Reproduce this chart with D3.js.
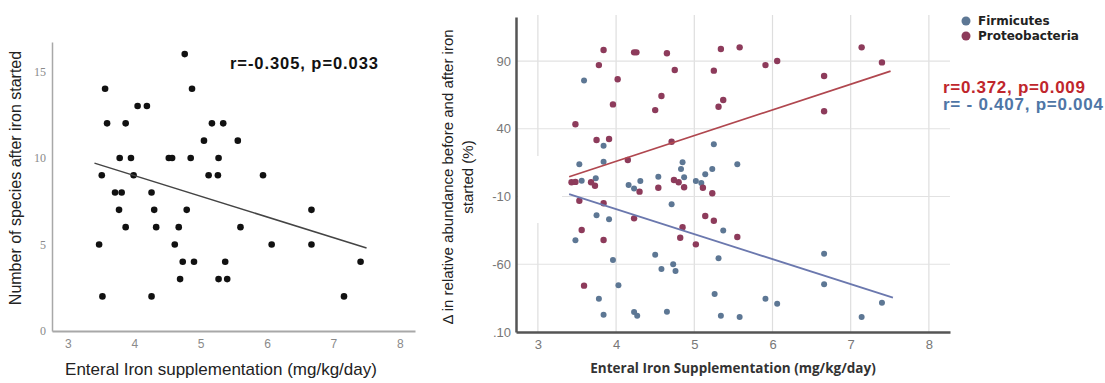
<!DOCTYPE html>
<html>
<head>
<meta charset="utf-8">
<script src="https://cdn.jsdelivr.net/npm/d3@7"></script>
<style>
  body { margin: 0; background: #fff; }
  svg { display: block; }
</style>
</head>
<body>
<div id="chart"></div>
<script>
// left panel: species count vs enteral iron
const speciesIron = [4.76, 3.56, 4.87, 4.05, 4.19, 3.59, 3.87, 5.17, 5.34, 5.05, 5.56, 3.78, 3.95, 4.52, 4.57, 4.85, 5.27,
  3.51, 3.99, 5.12, 5.26, 5.94, 3.71, 3.81, 4.26, 3.77, 4.30, 4.79, 6.67, 3.87, 4.33, 4.67, 5.60, 3.47, 4.61, 6.07, 6.67,
  4.73, 4.90, 5.37, 7.41, 4.69, 5.27, 5.40, 3.52, 4.26, 7.16];
const speciesCount = [16, 14, 14, 13, 13, 12, 12, 12, 12, 11, 11, 10, 10, 10, 10, 10, 10,
  9, 9, 9, 9, 9, 8, 8, 8, 7, 7, 7, 7, 6, 6, 6, 6, 5, 5, 5, 5,
  4, 4, 4, 4, 3, 3, 3, 2, 2, 2];
const speciesFit = [[3.4, 9.7], [7.5, 4.8]];

// right panel: change in relative abundance
const proteoIron = [3.84, 4.23, 4.26, 4.65, 3.78, 4.75, 5.25, 4.02, 4.58, 3.96, 4.50, 5.37, 5.31, 3.48, 3.75, 3.91, 4.71,
  4.15, 5.34, 5.58, 5.91, 6.06, 6.66, 7.14, 7.40, 6.66, 3.43, 3.48, 3.68, 3.73, 4.30, 4.54, 4.74, 4.80, 4.87, 5.11,
  5.23, 3.53, 3.84, 4.23, 5.14, 5.25, 4.85, 4.82, 5.02, 3.56, 3.84, 3.59, 5.55];
const proteoDelta = [98.1, 96.4, 96.4, 95.7, 87, 83.4, 82.9, 76.5, 64.2, 58, 53.8, 61.2, 56.3, 43.3, 31.7, 32.4, 30.4,
  17, 98.9, 100.1, 87, 90, 78.9, 100.1, 89, 52.9, 0.5, 0.8, 0.5, -2, -6.4, -3.5, 2.2, 0.5, -3.2, -3.5,
  -7.6, -13.1, -15, -26.1, -24.4, -27.9, -32.7, -40.4, -45.3, -34.7, -42.1, -75.8, -39.9];
const firmIron = [3.59, 3.84, 3.53, 3.84, 4.85, 5.25, 5.55, 5.23, 4.83, 4.87, 3.56, 3.74, 4.16, 4.23, 4.31, 4.54, 5.14,
  5.02, 5.09, 4.71, 3.75, 3.91, 3.48, 3.96, 4.50, 4.58, 4.73, 4.76, 4.03, 3.78, 3.84, 4.23, 4.27, 4.65, 5.26, 5.34,
  5.31, 5.37, 5.91, 6.06, 5.58, 6.66, 6.66, 7.14, 7.40];
const firmDelta = [75.7, 27.5, 13.8, 15.7, 15.2, 28.5, 13.8, 10.3, 10.3, 4.2, 1.7, 3.4, -1.5, -4, 1.4, 4.6, 6.4,
  1.4, 0, -15.8, -23.9, -26.8, -42.3, -56.9, -53, -63.5, -60, -65, -75.5, -85.4, -97.2, -95.2, -98, -95, -82, -98,
  -55.6, -35, -85.4, -89.1, -99, -52.2, -74.8, -99, -88.4];
const proteoFit = [[3.40, 4.6], [7.51, 82.6]];
const firmFit = [[3.40, -8.2], [7.54, -84.7]];

const xTickValues = [3, 4, 5, 6, 7, 8];
const leftYTicks = [0, 5, 10, 15];
const rightYTicks = [90, 40, -10, -60, -110];
const rightYLabels = ["90", "40", "-10", "-60", ".10"];
const seriesNames = ["Firmicutes", "Proteobacteria"];
const seriesColors = ["#5d7794", "#8d3b5b"];

const svg = d3.select("#chart")
  .append("svg")
  .attr("width", 1105)
  .attr("height", 383);

// ---------- left panel ----------
const xL = d3.scaleLinear().domain([2.76, 8.23]).range([52, 415]);
const yL = d3.scaleLinear().domain([0, 16.7]).range([331, 42]);

const leftX = svg.append("g")
  .attr("transform", "translate(0,331)")
  .call(d3.axisBottom(xL).tickValues(xTickValues).tickFormat(d3.format("d")).tickSize(0).tickPadding(8));
leftX.select(".domain").attr("stroke", "#a8a8a8").attr("stroke-width", 2);
leftX.selectAll("text")
  .style("font-family", "Liberation Sans, Arial, sans-serif")
  .style("font-size", "12px")
  .attr("fill", "#8a8a8a");

const leftY = svg.append("g")
  .attr("transform", "translate(52,0)")
  .call(d3.axisLeft(yL).tickValues(leftYTicks).tickSize(0).tickPadding(6));
leftY.select(".domain").attr("stroke", "#a8a8a8").attr("stroke-width", 1.5);
leftY.selectAll("text")
  .style("font-family", "Liberation Serif, serif")
  .style("font-size", "12px")
  .attr("fill", "#8a8a8a");

svg.append("g")
  .selectAll("circle")
  .data(speciesIron)
  .enter()
  .append("circle")
  .attr("cx", function(d) { return xL(d); })
  .attr("cy", function(d, i) { return yL(speciesCount[i]); })
  .attr("r", 3.3)
  .attr("fill", "#111");

svg.append("path")
  .datum(speciesFit)
  .attr("d", d3.line()
    .x(function(d) { return xL(d[0]); })
    .y(function(d) { return yL(d[1]); }))
  .attr("stroke", "#444")
  .attr("stroke-width", 1.5)
  .attr("fill", "none");

svg.append("text")
  .attr("x", 230)
  .attr("y", 69)
  .attr("textLength", 148)
  .style("font-family", "Liberation Sans, Arial, sans-serif")
  .style("font-size", "16.5px")
  .style("font-weight", "bold")
  .attr("fill", "#111")
  .text("r=-0.305, p=0.033");

svg.append("text")
  .attr("transform", "translate(21,178) rotate(-90)")
  .style("text-anchor", "middle")
  .style("font-family", "Liberation Sans, Arial, sans-serif")
  .style("font-size", "16px")
  .attr("fill", "#222")
  .text("Number of species after iron started");

svg.append("text")
  .attr("x", 221)
  .attr("y", 375)
  .style("text-anchor", "middle")
  .style("font-family", "Liberation Sans, Arial, sans-serif")
  .style("font-size", "17px")
  .attr("fill", "#222")
  .text("Enteral Iron supplementation (mg/kg/day)");

// ---------- right panel ----------
const xR = d3.scaleLinear().domain([2.72, 8.27]).range([516, 950]);
const yR = d3.scaleLinear().domain([-110, 122.5]).range([332, 17]);

svg.append("g")
  .selectAll("line")
  .data(xTickValues)
  .enter()
  .append("line")
  .attr("x1", function(d) { return xR(d); })
  .attr("x2", function(d) { return xR(d); })
  .attr("y1", 15)
  .attr("y2", 332)
  .attr("stroke", "#dedede")
  .attr("stroke-width", 1.2);

svg.append("g")
  .selectAll("line")
  .data(rightYTicks.slice(0, 4))
  .enter()
  .append("line")
  .attr("x1", 516)
  .attr("x2", 950)
  .attr("y1", function(d) { return yR(d); })
  .attr("y2", function(d) { return yR(d); })
  .attr("stroke", "#e2e2e2")
  .attr("stroke-width", 1.2);

svg.append("rect")
  .attr("x", 518)
  .attr("y", 156)
  .attr("width", 44)
  .attr("height", 67)
  .attr("fill", "#fff");

const rightX = svg.append("g")
  .attr("transform", "translate(0,332)")
  .call(d3.axisBottom(xR).tickValues(xTickValues).tickFormat(d3.format("d")).tickSize(0).tickPadding(8));
rightX.select(".domain").attr("stroke", "#555").attr("stroke-width", 2.5);
rightX.selectAll("text")
  .style("font-family", "Liberation Sans, Arial, sans-serif")
  .style("font-size", "13px")
  .attr("fill", "#777");

const rightY = svg.append("g")
  .attr("transform", "translate(516,0)")
  .call(d3.axisLeft(yR).tickValues(rightYTicks).tickSize(0).tickPadding(5)
    .tickFormat(function(d, i) { return rightYLabels[i]; }));
rightY.select(".domain").attr("stroke", "#555").attr("stroke-width", 2.5);
rightY.selectAll("text")
  .style("font-family", "Liberation Sans, Arial, sans-serif")
  .style("font-size", "13px")
  .attr("fill", "#777");

svg.append("g")
  .selectAll("circle")
  .data(firmIron)
  .enter()
  .append("circle")
  .attr("cx", function(d) { return xR(d); })
  .attr("cy", function(d, i) { return yR(firmDelta[i]); })
  .attr("r", 3)
  .attr("fill", seriesColors[0]);

svg.append("g")
  .selectAll("circle")
  .data(proteoIron)
  .enter()
  .append("circle")
  .attr("cx", function(d) { return xR(d); })
  .attr("cy", function(d, i) { return yR(proteoDelta[i]); })
  .attr("r", 3.2)
  .attr("fill", seriesColors[1]);

const fitLine = d3.line()
  .x(function(d) { return xR(d[0]); })
  .y(function(d) { return yR(d[1]); });

svg.append("path")
  .datum(proteoFit)
  .attr("d", fitLine)
  .attr("stroke", "#b0474f")
  .attr("stroke-width", 1.8)
  .attr("fill", "none");

svg.append("path")
  .datum(firmFit)
  .attr("d", fitLine)
  .attr("stroke", "#6b78ae")
  .attr("stroke-width", 1.8)
  .attr("fill", "none");

const legend = svg.append("g")
  .selectAll("g")
  .data(seriesNames)
  .enter()
  .append("g")
  .attr("transform", function(d, i) { return "translate(966," + (20 + i * 15) + ")"; });

legend.append("circle")
  .attr("cy", 1)
  .attr("r", 4.5)
  .attr("fill", function(d, i) { return seriesColors[i]; });

legend.append("text")
  .attr("x", 12)
  .attr("y", 5)
  .style("font-family", "DejaVu Sans, sans-serif")
  .style("font-size", "12px")
  .style("font-weight", "bold")
  .attr("fill", "#222")
  .text(function(d) { return d; });

svg.append("text")
  .attr("x", 943)
  .attr("y", 93)
  .attr("textLength", 142)
  .style("font-family", "Liberation Sans, Arial, sans-serif")
  .style("font-size", "17px")
  .style("font-weight", "bold")
  .attr("fill", "#c0262c")
  .text("r=0.372, p=0.009");

svg.append("text")
  .attr("x", 943)
  .attr("y", 110)
  .attr("textLength", 160)
  .style("font-family", "Liberation Sans, Arial, sans-serif")
  .style("font-size", "17px")
  .style("font-weight", "bold")
  .attr("fill", "#4f76a6")
  .text("r= - 0.407, p=0.004");

const yLabel = svg.append("text")
  .attr("transform", "translate(453,177) rotate(-90)")
  .style("text-anchor", "middle")
  .style("font-family", "Liberation Sans, Arial, sans-serif")
  .style("font-size", "15px")
  .attr("fill", "#222");
yLabel.append("tspan")
  .attr("x", 0)
  .attr("y", 0)
  .text("Δ in relative abundance before and after iron");
yLabel.append("tspan")
  .attr("x", 0)
  .attr("y", 20)
  .text("started (%)");

svg.append("text")
  .attr("x", 733)
  .attr("y", 373)
  .style("text-anchor", "middle")
  .style("font-family", "Open Sans, sans-serif")
  .style("font-size", "13.5px")
  .style("font-weight", "bold")
  .attr("fill", "#333")
  .text("Enteral Iron Supplementation (mg/kg/day)");
</script>
</body>
</html>
